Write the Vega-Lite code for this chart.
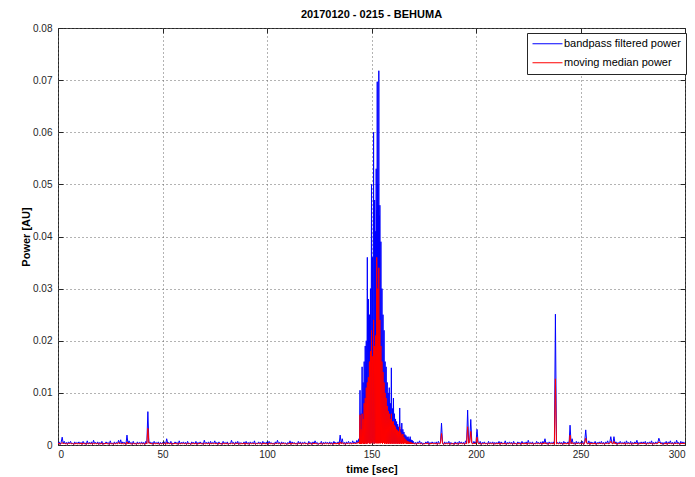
{
"$schema":"https://vega.github.io/schema/vega-lite/v6.json",
"width":627,"height":417,
"autosize":{"type":"none"},
"padding":{"left":58,"top":28,"right":10,"bottom":32},
"background":"white",
"title":{"text":"20170120 - 0215 - BEHUMA","fontSize":11,"fontWeight":"bold","font":"Liberation Sans","color":"#000000","offset":3,"anchor":"middle"},
"config":{
"view":{"stroke":"#262626","strokeWidth":1},
"axis":{"labelFont":"Liberation Sans","labelFontSize":10,"labelColor":"#262626","titleFont":"Liberation Sans","titleFontSize":11,"titleFontWeight":"bold","titleColor":"#000000","gridColor":"#666666","gridDash":[1,3],"gridOpacity":1,"gridWidth":1,"tickColor":"#262626","tickSize":-5,"domain":false},
"legend":{"labelFont":"Liberation Sans","labelFontSize":11,"labelColor":"#000000","strokeColor":"#262626","fillColor":"#ffffff","padding":5,"rowPadding":6}
},
"data":{"values":[
{"t":0,"b":0.0002,"r":0.0002},{"t":0.5,"b":0.0006,"r":0.0004},{"t":1,"b":0.0001,"r":0.0001},{"t":1.5,"b":0.0005,"r":0.0003},{"t":2,"b":0.0015,"r":0.0005},{"t":2.5,"b":0.0003,"r":0.0002},{"t":3,"b":0.0007,"r":0.0004},{"t":3.5,"b":0.0002,"r":0.0002},{"t":4,"b":0.0005,"r":0.0003},{"t":4.5,"b":0.0001,"r":0.0001},{"t":5,"b":0.0006,"r":0.0004},{"t":5.5,"b":0.0003,"r":0.0002},{"t":6,"b":0.0007,"r":0.0004},{"t":6.5,"b":0.0002,"r":0.0002},{"t":7,"b":0.0004,"r":0.0003},{"t":7.5,"b":0.0001,"r":0.0001},{"t":8,"b":0.0006,"r":0.0004},{"t":8.5,"b":0.0002,"r":0.0002},{"t":9,"b":0.0005,"r":0.0003},{"t":9.5,"b":0.0003,"r":0.0002},
{"t":10,"b":0.0006,"r":0.0003},{"t":10.5,"b":0.0002,"r":0.0002},{"t":11,"b":0.0005,"r":0.0004},{"t":11.5,"b":0.0001,"r":0.0001},{"t":12,"b":0.0007,"r":0.0004},{"t":12.5,"b":0.0003,"r":0.0002},{"t":13,"b":0.0004,"r":0.0003},{"t":13.5,"b":0.0001,"r":0.0001},{"t":14,"b":0.0008,"r":0.0004},{"t":14.5,"b":0.0002,"r":0.0002},{"t":15,"b":0.0005,"r":0.0003},{"t":15.5,"b":0.0002,"r":0.0002},{"t":16,"b":0.0006,"r":0.0004},{"t":16.5,"b":0.0001,"r":0.0001},{"t":17,"b":0.0009,"r":0.0004},{"t":17.5,"b":0.0003,"r":0.0002},{"t":18,"b":0.0005,"r":0.0003},{"t":18.5,"b":0.0002,"r":0.0002},{"t":19,"b":0.0006,"r":0.0004},{"t":19.5,"b":0.0001,"r":0.0001},
{"t":20,"b":0.0005,"r":0.0003},{"t":20.5,"b":0.0002,"r":0.0002},{"t":21,"b":0.0007,"r":0.0004},{"t":21.5,"b":0.0001,"r":0.0001},{"t":22,"b":0.0004,"r":0.0003},{"t":22.5,"b":0.0002,"r":0.0002},{"t":23,"b":0.0006,"r":0.0004},{"t":23.5,"b":0.0003,"r":0.0002},{"t":24,"b":0.0005,"r":0.0003},{"t":24.5,"b":0.0001,"r":0.0001},{"t":25,"b":0.0008,"r":0.0004},{"t":25.5,"b":0.0002,"r":0.0002},{"t":26,"b":0.0004,"r":0.0003},{"t":26.5,"b":0.0001,"r":0.0001},{"t":27,"b":0.0006,"r":0.0004},{"t":27.5,"b":0.0002,"r":0.0002},{"t":28,"b":0.0005,"r":0.0003},{"t":28.5,"b":0.0003,"r":0.0002},{"t":29,"b":0.0009,"r":0.0005},{"t":29.5,"b":0.0002,"r":0.0002},
{"t":30,"b":0.001,"r":0.0004},{"t":30.5,"b":0.0002,"r":0.0002},{"t":31,"b":0.0006,"r":0.0003},{"t":31.5,"b":0.0003,"r":0.0002},{"t":32,"b":0.0005,"r":0.0003},{"t":32.5,"b":0.0001,"r":0.0001},{"t":33,"b":0.0019,"r":0.0006},{"t":33.5,"b":0.0002,"r":0.0002},{"t":34,"b":0.0008,"r":0.0004},{"t":34.5,"b":0.0003,"r":0.0002},{"t":35,"b":0.0005,"r":0.0003},{"t":35.5,"b":0.0001,"r":0.0001},{"t":36,"b":0.0007,"r":0.0004},{"t":36.5,"b":0.0002,"r":0.0002},{"t":37,"b":0.0004,"r":0.0003},{"t":37.5,"b":0.0001,"r":0.0001},{"t":38,"b":0.0006,"r":0.0004},{"t":38.5,"b":0.0002,"r":0.0002},{"t":39,"b":0.0005,"r":0.0003},{"t":39.5,"b":0.0003,"r":0.0002},
{"t":40,"b":0.0006,"r":0.0003},{"t":40.5,"b":0.0002,"r":0.0002},{"t":41,"b":0.0005,"r":0.0003},{"t":41.5,"b":0.0001,"r":0.0001},{"t":42,"b":0.0007,"r":0.0004},{"t":42.5,"b":0.0003,"r":0.0002},{"t":43,"b":0.0064,"r":0.0032},{"t":43.5,"b":0.0004,"r":0.0003},{"t":44,"b":0.0006,"r":0.0004},{"t":44.5,"b":0.0002,"r":0.0002},{"t":45,"b":0.0005,"r":0.0003},{"t":45.5,"b":0.0001,"r":0.0001},{"t":46,"b":0.0007,"r":0.0004},{"t":46.5,"b":0.0003,"r":0.0002},{"t":47,"b":0.0005,"r":0.0003},{"t":47.5,"b":0.0002,"r":0.0002},{"t":48,"b":0.0006,"r":0.0004},{"t":48.5,"b":0.0001,"r":0.0001},{"t":49,"b":0.0005,"r":0.0003},{"t":49.5,"b":0.0002,"r":0.0002},
{"t":50,"b":0.0005,"r":0.0003},{"t":50.5,"b":0.0002,"r":0.0002},{"t":51,"b":0.0006,"r":0.0004},{"t":51.5,"b":0.0001,"r":0.0001},{"t":52,"b":0.0012,"r":0.0005},{"t":52.5,"b":0.0003,"r":0.0002},{"t":53,"b":0.0005,"r":0.0003},{"t":53.5,"b":0.0002,"r":0.0002},{"t":54,"b":0.0007,"r":0.0004},{"t":54.5,"b":0.0001,"r":0.0001},{"t":55,"b":0.0004,"r":0.0003},{"t":55.5,"b":0.0002,"r":0.0002},{"t":56,"b":0.0006,"r":0.0004},{"t":56.5,"b":0.0003,"r":0.0002},{"t":57,"b":0.0005,"r":0.0003},{"t":57.5,"b":0.0001,"r":0.0001},{"t":58,"b":0.0008,"r":0.0004},{"t":58.5,"b":0.0002,"r":0.0002},{"t":59,"b":0.0005,"r":0.0003},{"t":59.5,"b":0.0003,"r":0.0002},
{"t":60,"b":0.0006,"r":0.0004},{"t":60.5,"b":0.0002,"r":0.0002},{"t":61,"b":0.0005,"r":0.0003},{"t":61.5,"b":0.0001,"r":0.0001},{"t":62,"b":0.0007,"r":0.0004},{"t":62.5,"b":0.0002,"r":0.0002},{"t":63,"b":0.0004,"r":0.0003},{"t":63.5,"b":0.0001,"r":0.0001},{"t":64,"b":0.0006,"r":0.0004},{"t":64.5,"b":0.0003,"r":0.0002},{"t":65,"b":0.0005,"r":0.0003},{"t":65.5,"b":0.0002,"r":0.0002},{"t":66,"b":0.0007,"r":0.0004},{"t":66.5,"b":0.0001,"r":0.0001},{"t":67,"b":0.0005,"r":0.0003},{"t":67.5,"b":0.0002,"r":0.0002},{"t":68,"b":0.0006,"r":0.0004},{"t":68.5,"b":0.0003,"r":0.0002},{"t":69,"b":0.0004,"r":0.0003},{"t":69.5,"b":0.0001,"r":0.0001},
{"t":70,"b":0.0009,"r":0.0004},{"t":70.5,"b":0.0003,"r":0.0002},{"t":71,"b":0.0005,"r":0.0003},{"t":71.5,"b":0.0002,"r":0.0002},{"t":72,"b":0.0006,"r":0.0004},{"t":72.5,"b":0.0001,"r":0.0001},{"t":73,"b":0.0007,"r":0.0004},{"t":73.5,"b":0.0002,"r":0.0002},{"t":74,"b":0.0005,"r":0.0003},{"t":74.5,"b":0.0003,"r":0.0002},{"t":75,"b":0.0008,"r":0.0004},{"t":75.5,"b":0.0002,"r":0.0002},{"t":76,"b":0.0005,"r":0.0003},{"t":76.5,"b":0.0001,"r":0.0001},{"t":77,"b":0.0006,"r":0.0004},{"t":77.5,"b":0.0002,"r":0.0002},{"t":78,"b":0.0004,"r":0.0003},{"t":78.5,"b":0.0001,"r":0.0001},{"t":79,"b":0.0007,"r":0.0004},{"t":79.5,"b":0.0003,"r":0.0002},
{"t":80,"b":0.0005,"r":0.0003},{"t":80.5,"b":0.0002,"r":0.0002},{"t":81,"b":0.0006,"r":0.0004},{"t":81.5,"b":0.0001,"r":0.0001},{"t":82,"b":0.0004,"r":0.0003},{"t":82.5,"b":0.0002,"r":0.0002},{"t":83,"b":0.0009,"r":0.0004},{"t":83.5,"b":0.0003,"r":0.0002},{"t":84,"b":0.0005,"r":0.0003},{"t":84.5,"b":0.0001,"r":0.0001},{"t":85,"b":0.0006,"r":0.0004},{"t":85.5,"b":0.0002,"r":0.0002},{"t":86,"b":0.0007,"r":0.0004},{"t":86.5,"b":0.0001,"r":0.0001},{"t":87,"b":0.0005,"r":0.0003},{"t":87.5,"b":0.0003,"r":0.0002},{"t":88,"b":0.0004,"r":0.0003},{"t":88.5,"b":0.0002,"r":0.0002},{"t":89,"b":0.0006,"r":0.0004},{"t":89.5,"b":0.0001,"r":0.0001},
{"t":90,"b":0.0007,"r":0.0004},{"t":90.5,"b":0.0002,"r":0.0002},{"t":91,"b":0.0005,"r":0.0003},{"t":91.5,"b":0.0001,"r":0.0001},{"t":92,"b":0.0006,"r":0.0004},{"t":92.5,"b":0.0003,"r":0.0002},{"t":93,"b":0.0005,"r":0.0003},{"t":93.5,"b":0.0002,"r":0.0002},{"t":94,"b":0.0008,"r":0.0004},{"t":94.5,"b":0.0001,"r":0.0001},{"t":95,"b":0.0004,"r":0.0003},{"t":95.5,"b":0.0002,"r":0.0002},{"t":96,"b":0.0006,"r":0.0004},{"t":96.5,"b":0.0003,"r":0.0002},{"t":97,"b":0.0005,"r":0.0003},{"t":97.5,"b":0.0001,"r":0.0001},{"t":98,"b":0.0007,"r":0.0004},{"t":98.5,"b":0.0002,"r":0.0002},{"t":99,"b":0.0005,"r":0.0003},{"t":99.5,"b":0.0002,"r":0.0002},
{"t":100,"b":0.0006,"r":0.0003},{"t":100.5,"b":0.0001,"r":0.0001},{"t":101,"b":0.0007,"r":0.0004},{"t":101.5,"b":0.0003,"r":0.0002},{"t":102,"b":0.0005,"r":0.0003},{"t":102.5,"b":0.0002,"r":0.0002},{"t":103,"b":0.0004,"r":0.0003},{"t":103.5,"b":0.0001,"r":0.0001},{"t":104,"b":0.0006,"r":0.0004},{"t":104.5,"b":0.0002,"r":0.0002},{"t":105,"b":0.0009,"r":0.0004},{"t":105.5,"b":0.0003,"r":0.0002},{"t":106,"b":0.0005,"r":0.0003},{"t":106.5,"b":0.0001,"r":0.0001},{"t":107,"b":0.0006,"r":0.0004},{"t":107.5,"b":0.0002,"r":0.0002},{"t":108,"b":0.0005,"r":0.0003},{"t":108.5,"b":0.0003,"r":0.0002},{"t":109,"b":0.0004,"r":0.0003},{"t":109.5,"b":0.0001,"r":0.0001},
{"t":110,"b":0.0005,"r":0.0003},{"t":110.5,"b":0.0002,"r":0.0002},{"t":111,"b":0.0008,"r":0.0004},{"t":111.5,"b":0.0001,"r":0.0001},{"t":112,"b":0.0006,"r":0.0004},{"t":112.5,"b":0.0003,"r":0.0002},{"t":113,"b":0.0005,"r":0.0003},{"t":113.5,"b":0.0002,"r":0.0002},{"t":114,"b":0.0004,"r":0.0003},{"t":114.5,"b":0.0001,"r":0.0001},{"t":115,"b":0.0007,"r":0.0004},{"t":115.5,"b":0.0002,"r":0.0002},{"t":116,"b":0.0006,"r":0.0004},{"t":116.5,"b":0.0001,"r":0.0001},{"t":117,"b":0.0005,"r":0.0003},{"t":117.5,"b":0.0003,"r":0.0002},{"t":118,"b":0.0006,"r":0.0004},{"t":118.5,"b":0.0002,"r":0.0002},{"t":119,"b":0.0004,"r":0.0003},{"t":119.5,"b":0.0001,"r":0.0001},
{"t":120,"b":0.0007,"r":0.0004},{"t":120.5,"b":0.0002,"r":0.0002},{"t":121,"b":0.0005,"r":0.0003},{"t":121.5,"b":0.0001,"r":0.0001},{"t":122,"b":0.0006,"r":0.0004},{"t":122.5,"b":0.0002,"r":0.0002},{"t":123,"b":0.0008,"r":0.0004},{"t":123.5,"b":0.0003,"r":0.0002},{"t":124,"b":0.0005,"r":0.0003},{"t":124.5,"b":0.0001,"r":0.0001},{"t":125,"b":0.0004,"r":0.0003},{"t":125.5,"b":0.0002,"r":0.0002},{"t":126,"b":0.0007,"r":0.0004},{"t":126.5,"b":0.0001,"r":0.0001},{"t":127,"b":0.0005,"r":0.0003},{"t":127.5,"b":0.0002,"r":0.0002},{"t":128,"b":0.0006,"r":0.0004},{"t":128.5,"b":0.0003,"r":0.0002},{"t":129,"b":0.0005,"r":0.0003},{"t":129.5,"b":0.0002,"r":0.0002},
{"t":130,"b":0.0006,"r":0.0003},{"t":130.5,"b":0.0002,"r":0.0002},{"t":131,"b":0.0005,"r":0.0003},{"t":131.5,"b":0.0001,"r":0.0001},{"t":132,"b":0.0007,"r":0.0004},{"t":132.5,"b":0.0003,"r":0.0002},{"t":133,"b":0.0005,"r":0.0003},{"t":133.5,"b":0.0002,"r":0.0002},{"t":134,"b":0.0006,"r":0.0004},{"t":134.5,"b":0.0001,"r":0.0001},{"t":135,"b":0.0019,"r":0.0006},{"t":135.5,"b":0.0003,"r":0.0002},{"t":136,"b":0.0012,"r":0.0005},{"t":136.5,"b":0.0002,"r":0.0002},{"t":137,"b":0.0005,"r":0.0003},{"t":137.5,"b":0.0001,"r":0.0001},{"t":138,"b":0.0006,"r":0.0004},{"t":138.5,"b":0.0002,"r":0.0002},{"t":139,"b":0.0007,"r":0.0004},{"t":139.5,"b":0.0003,"r":0.0002},
{"t":140,"b":0.0005,"r":0.0003},{"t":140.5,"b":0.0002,"r":0.0002},{"t":141,"b":0.0008,"r":0.0004},{"t":141.5,"b":0.0003,"r":0.0002},{"t":142,"b":0.0006,"r":0.0004},{"t":142.5,"b":0.0002,"r":0.0002},{"t":143,"b":0.0009,"r":0.0005},{"t":143.5,"b":0.0004,"r":0.0003},
{"t":144,"b":0.0012,"r":0.0006},{"t":144.25,"b":0.0003,"r":0.0002},{"t":144.5,"b":0.0105,"r":0.0058},{"t":144.75,"b":0.0003,"r":0.0002},{"t":145,"b":0.006,"r":0.003},{"t":145.25,"b":0.0002,"r":0.0002},{"t":145.5,"b":0.015,"r":0.006},{"t":145.75,"b":0.0004,"r":0.0003},{"t":146,"b":0.012,"r":0.005},{"t":146.25,"b":0.0003,"r":0.0002},{"t":146.5,"b":0.016,"r":0.008},{"t":146.75,"b":0.0002,"r":0.0002},{"t":147,"b":0.019,"r":0.009},{"t":147.25,"b":0.0005,"r":0.0003},{"t":147.5,"b":0.02,"r":0.011},{"t":147.75,"b":0.0003,"r":0.0002},
{"t":148,"b":0.036,"r":0.012},{"t":148.25,"b":0.0004,"r":0.0003},{"t":148.5,"b":0.028,"r":0.013},{"t":148.75,"b":0.0006,"r":0.0004},{"t":149,"b":0.025,"r":0.016},{"t":149.25,"b":0.0003,"r":0.0002},{"t":149.5,"b":0.03,"r":0.018},{"t":149.75,"b":0.0008,"r":0.0004},{"t":150,"b":0.05,"r":0.022},{"t":150.25,"b":0.0004,"r":0.0003},{"t":150.5,"b":0.036,"r":0.017},{"t":150.75,"b":0.0009,"r":0.0005},{"t":151,"b":0.06,"r":0.024},{"t":151.25,"b":0.0003,"r":0.0002},{"t":151.5,"b":0.047,"r":0.019},{"t":151.75,"b":0.001,"r":0.0005},
{"t":152,"b":0.041,"r":0.021},{"t":152.125,"b":0.0004,"r":0.0003},{"t":152.25,"b":0.053,"r":0.018},{"t":152.375,"b":0.0006,"r":0.0004},{"t":152.5,"b":0.045,"r":0.036},{"t":152.625,"b":0.0004,"r":0.0003},{"t":152.75,"b":0.0697,"r":0.022},{"t":152.875,"b":0.0008,"r":0.0004},{"t":153,"b":0.05,"r":0.03},{"t":153.125,"b":0.0004,"r":0.0003},{"t":153.25,"b":0.046,"r":0.019},{"t":153.375,"b":0.0006,"r":0.0004},{"t":153.5,"b":0.0718,"r":0.034},{"t":153.625,"b":0.0004,"r":0.0003},{"t":153.75,"b":0.044,"r":0.021},{"t":153.875,"b":0.0006,"r":0.0004},
{"t":154,"b":0.046,"r":0.024},{"t":154.25,"b":0.0004,"r":0.0003},{"t":154.5,"b":0.039,"r":0.019},{"t":154.75,"b":0.0008,"r":0.0004},{"t":155,"b":0.03,"r":0.016},{"t":155.25,"b":0.0003,"r":0.0002},{"t":155.5,"b":0.025,"r":0.014},{"t":155.75,"b":0.0006,"r":0.0004},{"t":156,"b":0.022,"r":0.012},{"t":156.25,"b":0.0003,"r":0.0002},{"t":156.5,"b":0.016,"r":0.01},{"t":156.75,"b":0.0005,"r":0.0003},{"t":157,"b":0.015,"r":0.009},{"t":157.25,"b":0.0003,"r":0.0002},{"t":157.5,"b":0.012,"r":0.0075},{"t":157.75,"b":0.0005,"r":0.0003},
{"t":158,"b":0.01,"r":0.0065},{"t":158.25,"b":0.0003,"r":0.0002},{"t":158.5,"b":0.011,"r":0.006},{"t":158.75,"b":0.0004,"r":0.0003},{"t":159,"b":0.008,"r":0.005},{"t":159.25,"b":0.0003,"r":0.0002},{"t":159.5,"b":0.0148,"r":0.006},{"t":159.75,"b":0.0004,"r":0.0003},{"t":160,"b":0.007,"r":0.0045},{"t":160.25,"b":0.0003,"r":0.0002},{"t":160.5,"b":0.009,"r":0.0045},{"t":160.75,"b":0.0004,"r":0.0003},{"t":161,"b":0.006,"r":0.0038},{"t":161.25,"b":0.0003,"r":0.0002},{"t":161.5,"b":0.005,"r":0.0035},{"t":161.75,"b":0.0004,"r":0.0003},
{"t":162,"b":0.0045,"r":0.003},{"t":162.25,"b":0.0003,"r":0.0002},{"t":162.5,"b":0.004,"r":0.0028},{"t":162.75,"b":0.0004,"r":0.0003},{"t":163,"b":0.0035,"r":0.0026},{"t":163.25,"b":0.0003,"r":0.0002},{"t":163.5,"b":0.0071,"r":0.0035},{"t":163.75,"b":0.0004,"r":0.0003},{"t":164,"b":0.003,"r":0.0024},{"t":164.25,"b":0.0003,"r":0.0002},{"t":164.5,"b":0.0042,"r":0.002},{"t":164.75,"b":0.0004,"r":0.0003},{"t":165,"b":0.003,"r":0.0021},{"t":165.25,"b":0.0003,"r":0.0002},{"t":165.5,"b":0.0025,"r":0.0015},{"t":165.75,"b":0.0004,"r":0.0003},
{"t":166,"b":0.002,"r":0.0012},{"t":166.25,"b":0.0004,"r":0.0003},{"t":166.5,"b":0.0018,"r":0.001},{"t":166.75,"b":0.0003,"r":0.0002},{"t":167,"b":0.0015,"r":0.0008},{"t":167.25,"b":0.0003,"r":0.0002},{"t":167.5,"b":0.0016,"r":0.0007},{"t":167.75,"b":0.0002,"r":0.0002},{"t":168,"b":0.0012,"r":0.0006},{"t":168.25,"b":0.0002,"r":0.0002},{"t":168.5,"b":0.0016,"r":0.0006},{"t":168.75,"b":0.0002,"r":0.0002},{"t":169,"b":0.001,"r":0.0005},{"t":169.25,"b":0.0002,"r":0.0002},{"t":169.5,"b":0.0009,"r":0.0004},{"t":169.75,"b":0.0002,"r":0.0002},
{"t":170,"b":0.0007,"r":0.0004},{"t":170.5,"b":0.0002,"r":0.0002},{"t":171,"b":0.0005,"r":0.0003},{"t":171.5,"b":0.0001,"r":0.0001},{"t":172,"b":0.0006,"r":0.0004},{"t":172.5,"b":0.0003,"r":0.0002},{"t":173,"b":0.0008,"r":0.0004},{"t":173.5,"b":0.0002,"r":0.0002},{"t":174,"b":0.0005,"r":0.0003},{"t":174.5,"b":0.0001,"r":0.0001},{"t":175,"b":0.0004,"r":0.0003},{"t":175.5,"b":0.0002,"r":0.0002},{"t":176,"b":0.0006,"r":0.0004},{"t":176.5,"b":0.0003,"r":0.0002},{"t":177,"b":0.0007,"r":0.0004},{"t":177.5,"b":0.0001,"r":0.0001},{"t":178,"b":0.0005,"r":0.0003},{"t":178.5,"b":0.0002,"r":0.0002},{"t":179,"b":0.0006,"r":0.0004},{"t":179.5,"b":0.0003,"r":0.0002},
{"t":180,"b":0.0005,"r":0.0003},{"t":180.5,"b":0.0002,"r":0.0002},{"t":181,"b":0.0006,"r":0.0004},{"t":181.5,"b":0.0001,"r":0.0001},{"t":182,"b":0.0007,"r":0.0004},{"t":182.5,"b":0.0003,"r":0.0002},{"t":183,"b":0.0005,"r":0.0003},{"t":183.5,"b":0.0042,"r":0.0022},{"t":184,"b":0.0004,"r":0.0003},{"t":184.5,"b":0.0001,"r":0.0001},{"t":185,"b":0.0006,"r":0.0004},{"t":185.5,"b":0.0002,"r":0.0002},{"t":186,"b":0.0005,"r":0.0003},{"t":186.5,"b":0.0003,"r":0.0002},{"t":187,"b":0.0007,"r":0.0004},{"t":187.5,"b":0.0001,"r":0.0001},{"t":188,"b":0.0005,"r":0.0003},{"t":188.5,"b":0.0002,"r":0.0002},{"t":189,"b":0.0004,"r":0.0003},{"t":189.5,"b":0.0001,"r":0.0001},
{"t":190,"b":0.0006,"r":0.0004},{"t":190.5,"b":0.0002,"r":0.0002},{"t":191,"b":0.0005,"r":0.0003},{"t":191.5,"b":0.0001,"r":0.0001},{"t":192,"b":0.0007,"r":0.0004},{"t":192.5,"b":0.0003,"r":0.0002},{"t":193,"b":0.0006,"r":0.0004},{"t":193.5,"b":0.0002,"r":0.0002},{"t":194,"b":0.0005,"r":0.0003},{"t":194.5,"b":0.0001,"r":0.0001},{"t":195,"b":0.0008,"r":0.0004},{"t":195.5,"b":0.0003,"r":0.0002},{"t":196,"b":0.0067,"r":0.0035},{"t":196.5,"b":0.0004,"r":0.0003},{"t":197,"b":0.0009,"r":0.0005},{"t":197.5,"b":0.0049,"r":0.0026},{"t":198,"b":0.0005,"r":0.0003},{"t":198.5,"b":0.0002,"r":0.0002},{"t":199,"b":0.0007,"r":0.0004},{"t":199.5,"b":0.0003,"r":0.0002},
{"t":200,"b":0.0006,"r":0.0004},{"t":200.5,"b":0.003,"r":0.0015},{"t":201,"b":0.0005,"r":0.0003},{"t":201.5,"b":0.0002,"r":0.0002},{"t":202,"b":0.0007,"r":0.0004},{"t":202.5,"b":0.0001,"r":0.0001},{"t":203,"b":0.0005,"r":0.0003},{"t":203.5,"b":0.0003,"r":0.0002},{"t":204,"b":0.0006,"r":0.0004},{"t":204.5,"b":0.0002,"r":0.0002},{"t":205,"b":0.0004,"r":0.0003},{"t":205.5,"b":0.0001,"r":0.0001},{"t":206,"b":0.0007,"r":0.0004},{"t":206.5,"b":0.0002,"r":0.0002},{"t":207,"b":0.0005,"r":0.0003},{"t":207.5,"b":0.0003,"r":0.0002},{"t":208,"b":0.0006,"r":0.0004},{"t":208.5,"b":0.0001,"r":0.0001},{"t":209,"b":0.0005,"r":0.0003},{"t":209.5,"b":0.0002,"r":0.0002},
{"t":210,"b":0.0005,"r":0.0003},{"t":210.5,"b":0.0002,"r":0.0002},{"t":211,"b":0.0007,"r":0.0004},{"t":211.5,"b":0.0001,"r":0.0001},{"t":212,"b":0.0006,"r":0.0004},{"t":212.5,"b":0.0003,"r":0.0002},{"t":213,"b":0.0004,"r":0.0003},{"t":213.5,"b":0.0002,"r":0.0002},{"t":214,"b":0.0008,"r":0.0004},{"t":214.5,"b":0.0001,"r":0.0001},{"t":215,"b":0.0005,"r":0.0003},{"t":215.5,"b":0.0002,"r":0.0002},{"t":216,"b":0.0006,"r":0.0004},{"t":216.5,"b":0.0003,"r":0.0002},{"t":217,"b":0.0005,"r":0.0003},{"t":217.5,"b":0.0001,"r":0.0001},{"t":218,"b":0.0007,"r":0.0004},{"t":218.5,"b":0.0002,"r":0.0002},{"t":219,"b":0.0004,"r":0.0003},{"t":219.5,"b":0.0001,"r":0.0001},
{"t":220,"b":0.0006,"r":0.0004},{"t":220.5,"b":0.0003,"r":0.0002},{"t":221,"b":0.0005,"r":0.0003},{"t":221.5,"b":0.0001,"r":0.0001},{"t":222,"b":0.0007,"r":0.0004},{"t":222.5,"b":0.0002,"r":0.0002},{"t":223,"b":0.0005,"r":0.0003},{"t":223.5,"b":0.0002,"r":0.0002},{"t":224,"b":0.0006,"r":0.0004},{"t":224.5,"b":0.0001,"r":0.0001},{"t":225,"b":0.0009,"r":0.0004},{"t":225.5,"b":0.0003,"r":0.0002},{"t":226,"b":0.0005,"r":0.0003},{"t":226.5,"b":0.0002,"r":0.0002},{"t":227,"b":0.0006,"r":0.0004},{"t":227.5,"b":0.0001,"r":0.0001},{"t":228,"b":0.0004,"r":0.0003},{"t":228.5,"b":0.0002,"r":0.0002},{"t":229,"b":0.0007,"r":0.0004},{"t":229.5,"b":0.0003,"r":0.0002},
{"t":230,"b":0.0005,"r":0.0003},{"t":230.5,"b":0.0002,"r":0.0002},{"t":231,"b":0.0006,"r":0.0004},{"t":231.5,"b":0.0001,"r":0.0001},{"t":232,"b":0.0007,"r":0.0004},{"t":232.5,"b":0.0003,"r":0.0002},{"t":233,"b":0.0012,"r":0.0005},{"t":233.5,"b":0.0002,"r":0.0002},{"t":234,"b":0.0005,"r":0.0003},{"t":234.5,"b":0.0001,"r":0.0001},{"t":235,"b":0.0006,"r":0.0004},{"t":235.5,"b":0.0003,"r":0.0002},{"t":236,"b":0.0005,"r":0.0003},{"t":236.5,"b":0.0002,"r":0.0002},{"t":237,"b":0.0006,"r":0.0004},{"t":237.5,"b":0.0001,"r":0.0001},{"t":238,"b":0.0251,"r":0.0127},{"t":238.5,"b":0.0003,"r":0.0002},{"t":239,"b":0.0005,"r":0.0003},{"t":239.5,"b":0.0002,"r":0.0002},
{"t":240,"b":0.0006,"r":0.0004},{"t":240.5,"b":0.0002,"r":0.0002},{"t":241,"b":0.0005,"r":0.0003},{"t":241.5,"b":0.0001,"r":0.0001},{"t":242,"b":0.0007,"r":0.0004},{"t":242.5,"b":0.0003,"r":0.0002},{"t":243,"b":0.0005,"r":0.0003},{"t":243.5,"b":0.0002,"r":0.0002},{"t":244,"b":0.0006,"r":0.0004},{"t":244.5,"b":0.0001,"r":0.0001},{"t":245,"b":0.0038,"r":0.0019},{"t":245.5,"b":0.0003,"r":0.0002},{"t":246,"b":0.0012,"r":0.0005},{"t":246.5,"b":0.0002,"r":0.0002},{"t":247,"b":0.0005,"r":0.0003},{"t":247.5,"b":0.0001,"r":0.0001},{"t":248,"b":0.0007,"r":0.0004},{"t":248.5,"b":0.0002,"r":0.0002},{"t":249,"b":0.0006,"r":0.0004},{"t":249.5,"b":0.0003,"r":0.0002},
{"t":250,"b":0.0005,"r":0.0003},{"t":250.5,"b":0.0002,"r":0.0002},{"t":251,"b":0.0007,"r":0.0004},{"t":251.5,"b":0.0001,"r":0.0001},{"t":252,"b":0.0006,"r":0.0004},{"t":252.5,"b":0.0029,"r":0.0013},{"t":253,"b":0.0005,"r":0.0003},{"t":253.5,"b":0.0002,"r":0.0002},{"t":254,"b":0.0008,"r":0.0004},{"t":254.5,"b":0.0001,"r":0.0001},{"t":255,"b":0.0006,"r":0.0004},{"t":255.5,"b":0.0003,"r":0.0002},{"t":256,"b":0.0005,"r":0.0003},{"t":256.5,"b":0.0002,"r":0.0002},{"t":257,"b":0.0007,"r":0.0004},{"t":257.5,"b":0.0001,"r":0.0001},{"t":258,"b":0.0005,"r":0.0003},{"t":258.5,"b":0.0003,"r":0.0002},{"t":259,"b":0.0006,"r":0.0004},{"t":259.5,"b":0.0002,"r":0.0002},
{"t":260,"b":0.0007,"r":0.0004},{"t":260.5,"b":0.0002,"r":0.0002},{"t":261,"b":0.0005,"r":0.0003},{"t":261.5,"b":0.0001,"r":0.0001},{"t":262,"b":0.0006,"r":0.0004},{"t":262.5,"b":0.0003,"r":0.0002},{"t":263,"b":0.0008,"r":0.0004},{"t":263.5,"b":0.0002,"r":0.0002},{"t":264,"b":0.0005,"r":0.0003},{"t":264.5,"b":0.0016,"r":0.0007},{"t":265,"b":0.0004,"r":0.0003},{"t":265.5,"b":0.0002,"r":0.0002},{"t":266,"b":0.0016,"r":0.0007},{"t":266.5,"b":0.0003,"r":0.0002},{"t":267,"b":0.0006,"r":0.0004},{"t":267.5,"b":0.0001,"r":0.0001},{"t":268,"b":0.0005,"r":0.0003},{"t":268.5,"b":0.0002,"r":0.0002},{"t":269,"b":0.0007,"r":0.0004},{"t":269.5,"b":0.0003,"r":0.0002},
{"t":270,"b":0.0005,"r":0.0003},{"t":270.5,"b":0.0002,"r":0.0002},{"t":271,"b":0.0006,"r":0.0004},{"t":271.5,"b":0.0001,"r":0.0001},{"t":272,"b":0.0008,"r":0.0004},{"t":272.5,"b":0.0003,"r":0.0002},{"t":273,"b":0.0005,"r":0.0003},{"t":273.5,"b":0.0002,"r":0.0002},{"t":274,"b":0.0007,"r":0.0004},{"t":274.5,"b":0.0001,"r":0.0001},{"t":275,"b":0.0005,"r":0.0003},{"t":275.5,"b":0.0002,"r":0.0002},{"t":276,"b":0.0006,"r":0.0004},{"t":276.5,"b":0.0003,"r":0.0002},{"t":277,"b":0.0009,"r":0.0004},{"t":277.5,"b":0.0001,"r":0.0001},{"t":278,"b":0.0005,"r":0.0003},{"t":278.5,"b":0.0002,"r":0.0002},{"t":279,"b":0.0006,"r":0.0004},{"t":279.5,"b":0.0002,"r":0.0002},
{"t":280,"b":0.0006,"r":0.0004},{"t":280.5,"b":0.0002,"r":0.0002},{"t":281,"b":0.0007,"r":0.0004},{"t":281.5,"b":0.0001,"r":0.0001},{"t":282,"b":0.0005,"r":0.0003},{"t":282.5,"b":0.0003,"r":0.0002},{"t":283,"b":0.0006,"r":0.0004},{"t":283.5,"b":0.0002,"r":0.0002},{"t":284,"b":0.0008,"r":0.0004},{"t":284.5,"b":0.0001,"r":0.0001},{"t":285,"b":0.0005,"r":0.0003},{"t":285.5,"b":0.0002,"r":0.0002},{"t":286,"b":0.0006,"r":0.0004},{"t":286.5,"b":0.0003,"r":0.0002},{"t":287,"b":0.0005,"r":0.0003},{"t":287.5,"b":0.0013,"r":0.0006},{"t":288,"b":0.0007,"r":0.0004},{"t":288.5,"b":0.0002,"r":0.0002},{"t":289,"b":0.0005,"r":0.0003},{"t":289.5,"b":0.0001,"r":0.0001},
{"t":290,"b":0.0005,"r":0.0003},{"t":290.5,"b":0.0002,"r":0.0002},{"t":291,"b":0.0007,"r":0.0004},{"t":291.5,"b":0.0001,"r":0.0001},{"t":292,"b":0.0006,"r":0.0004},{"t":292.5,"b":0.0003,"r":0.0002},{"t":293,"b":0.0008,"r":0.0004},{"t":293.5,"b":0.0002,"r":0.0002},{"t":294,"b":0.0005,"r":0.0003},{"t":294.5,"b":0.0001,"r":0.0001},{"t":295,"b":0.0006,"r":0.0004},{"t":295.5,"b":0.0002,"r":0.0002},{"t":296,"b":0.0009,"r":0.0004},{"t":296.5,"b":0.0003,"r":0.0002},{"t":297,"b":0.0005,"r":0.0003},{"t":297.5,"b":0.0001,"r":0.0001},{"t":298,"b":0.0007,"r":0.0004},{"t":298.5,"b":0.0002,"r":0.0002},{"t":299,"b":0.0006,"r":0.0004},{"t":299.5,"b":0.0003,"r":0.0002},{"t":300,"b":0.0005,"r":0.0003}
]},
"resolve":{"axis":{"x":"independent","y":"independent"}},
"layer":[
{"mark":{"type":"line","strokeWidth":1,"clip":true},
"encoding":{
"x":{"field":"t","type":"quantitative","scale":{"domain":[0,300],"nice":false,"zero":false},"axis":{"title":"time [sec]","values":[0,50,100,150,200,250,300],"grid":true,"labelPadding":9,"titlePadding":4}},
"y":{"field":"b","type":"quantitative","scale":{"domain":[0,0.08],"nice":false},"axis":{"title":"Power [AU]","values":[0,0.01,0.02,0.03,0.04,0.05,0.06,0.07,0.08],"format":".2~f","grid":true,"labelPadding":11,"titlePadding":1}},
"color":{"datum":"bandpass filtered power","type":"nominal","scale":{"domain":["bandpass filtered power","moving median power"],"range":["#0000ff","#ff0000"]},
"legend":{"title":null,"orient":"none","legendX":469,"legendY":5,"symbolType":"stroke","symbolSize":900,"symbolStrokeWidth":1,"labelOffset":1,"clipHeight":11.5,"rowPadding":6,"padding":5}}
}},
{"mark":{"type":"line","strokeWidth":1,"clip":true},
"encoding":{
"x":{"field":"t","type":"quantitative","scale":{"domain":[0,300],"nice":false,"zero":false},"axis":null},
"y":{"field":"r","type":"quantitative","scale":{"domain":[0,0.08],"nice":false},"axis":null},
"color":{"datum":"moving median power","type":"nominal"}
}},
{"data":{"values":[{"t":0,"b":0}]},
"mark":{"type":"point","opacity":0},
"encoding":{
"x":{"field":"t","type":"quantitative","scale":{"domain":[0,300],"nice":false,"zero":false},"axis":{"orient":"top","title":null,"labels":false,"grid":false,"values":[0,50,100,150,200,250,300]}},
"y":{"field":"b","type":"quantitative","scale":{"domain":[0,0.08],"nice":false},"axis":{"orient":"right","title":null,"labels":false,"grid":false,"values":[0,0.01,0.02,0.03,0.04,0.05,0.06,0.07,0.08]}}
}}
]
}
